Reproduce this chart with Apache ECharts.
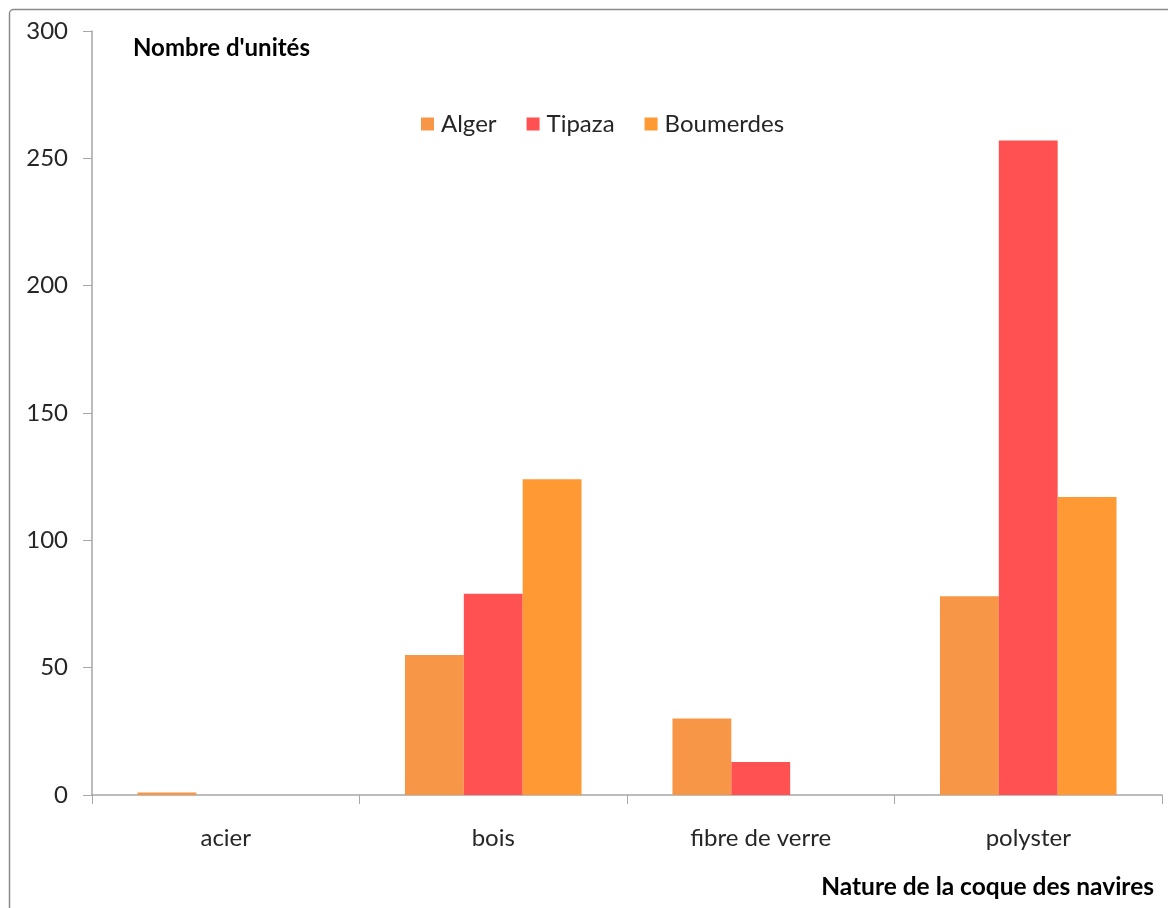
<!DOCTYPE html>
<html>
<head>
<meta charset="utf-8">
<script src="https://cdn.jsdelivr.net/npm/echarts@6/dist/echarts.min.js"></script>
<style>
  html, body { margin: 0; padding: 0; background: #ffffff; }
  #chart { width: 1168px; height: 908px; }
</style>
</head>
<body>
<div id="chart"></div>
<script>
// Hull material categories and number of units per wilaya
const categories = ['acier', 'bois', 'fibre de verre', 'polyster'];
const seriesNames = ['Alger', 'Tipaza', 'Boumerdes'];
const alger = [1, 55, 30, 78];
const tipaza = [0, 79, 13, 257];
const boumerdes = [0, 124, 0, 117];
const yTicks = { min: 0, max: 300, interval: 50 };

const colors = ['#F79646', '#FF5151', '#FF9933'];
const font = 'Lato, "Open Sans", sans-serif';
const textColor = '#262626';

const chart = echarts.init(document.getElementById('chart'), null, { renderer: 'canvas' });

const seriesValues = [alger, tipaza, boumerdes];

chart.setOption({
  backgroundColor: '#ffffff',
  animation: false,
  color: colors,
  graphic: [
    {
      type: 'rect',
      shape: { x: 9.5, y: 9.5, width: 1200, height: 1000, r: 4 },
      style: { fill: 'none', stroke: '#8c8c8c', lineWidth: 1.5 },
      z: -1
    },
    {
      type: 'text',
      left: 133, top: 36,
      style: { text: "Nombre d'unités", font: 'bold 24px ' + font, fill: '#000000' }
    },
    {
      type: 'text',
      right: 14, top: 875,
      style: { text: 'Nature de la coque des navires', font: 'bold 24.5px ' + font, fill: '#000000' }
    }
  ],
  legend: {
    data: seriesNames,
    left: 416, top: 107,
    itemWidth: 13, itemHeight: 13, itemGap: 30,
    icon: 'rect',
    textStyle: { fontFamily: font, fontSize: 24, color: textColor, padding: [0, 0, 0, 2] }
  },
  grid: { left: 92, right: 6, top: 31, bottom: 113, containLabel: false },
  xAxis: {
    type: 'category',
    data: categories,
    axisLine: { lineStyle: { color: '#a6a6a6', width: 1.5 } },
    axisTick: { show: true, length: 9, lineStyle: { color: '#a6a6a6' } },
    axisLabel: { margin: 31, fontFamily: font, fontSize: 24, color: textColor }
  },
  yAxis: {
    type: 'value',
    min: yTicks.min, max: yTicks.max, interval: yTicks.interval,
    splitLine: { show: false },
    axisLine: { show: true, lineStyle: { color: '#a6a6a6', width: 1.5 } },
    axisTick: { show: true, length: 9, lineStyle: { color: '#a6a6a6' } },
    axisLabel: { margin: 24, fontFamily: font, fontSize: 24, color: textColor }
  },
  series: seriesNames.map((name, i) => ({
    name: name,
    type: 'bar',
    data: seriesValues[i],
    barGap: '0%',
    barCategoryGap: '34%',
    itemStyle: { color: colors[i] }
  }))
});
</script>
</body>
</html>
